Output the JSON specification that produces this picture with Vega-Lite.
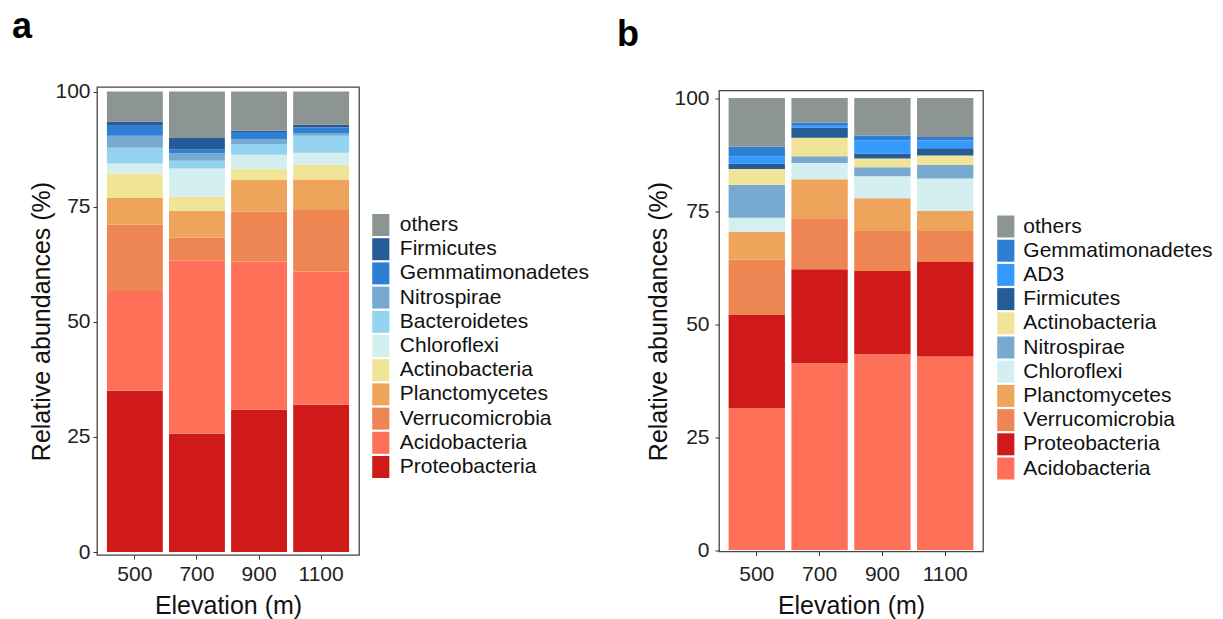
{
  "$schema": "https://vega.github.io/schema/vega-lite/v6.json",
  "autosize": {"type": "none"},
  "padding": {"left": 97, "top": 87, "right": 1126, "bottom": 532},
  "background": "white",
  "config": {
    "font": "Liberation Sans",
    "view": {"stroke": "#444444", "strokeWidth": 1.3},
    "axis": {"grid": false, "domain": false, "tickColor": "#333333", "tickSize": 4, "tickWidth": 1, "labelFont": "Liberation Sans", "labelFontSize": 21, "labelColor": "#222222", "titleFont": "Liberation Sans", "titleFontSize": 25, "titleFontWeight": "normal", "titleColor": "#111111"},
    "legend": {"labelFont": "Liberation Sans", "labelFontSize": 21, "labelColor": "#111111", "labelLimit": 0, "symbolType": "M-0.78,-1H0.78V1H-0.78Z", "symbolSize": 484, "symbolStrokeWidth": 0, "rowPadding": 2.2, "padding": 0, "titlePadding": 0},
    "title": {"font": "Liberation Sans", "fontSize": 36, "fontWeight": "bold", "color": "#000000", "anchor": "start", "frame": "group", "baseline": "alphabetic"}
  },
  "datasets": {
    "a": [
      {"elev": "500", "phylum": "Proteobacteria", "pct": 35.0},
      {"elev": "500", "phylum": "Acidobacteria", "pct": 21.7},
      {"elev": "500", "phylum": "Verrucomicrobia", "pct": 14.4},
      {"elev": "500", "phylum": "Planctomycetes", "pct": 5.8},
      {"elev": "500", "phylum": "Actinobacteria", "pct": 5.3},
      {"elev": "500", "phylum": "Chloroflexi", "pct": 2.2},
      {"elev": "500", "phylum": "Bacteroidetes", "pct": 3.4},
      {"elev": "500", "phylum": "Nitrospirae", "pct": 2.6},
      {"elev": "500", "phylum": "Gemmatimonadetes", "pct": 2.2},
      {"elev": "500", "phylum": "Firmicutes", "pct": 0.9},
      {"elev": "500", "phylum": "others", "pct": 6.5},
      {"elev": "700", "phylum": "Proteobacteria", "pct": 25.7},
      {"elev": "700", "phylum": "Acidobacteria", "pct": 37.6},
      {"elev": "700", "phylum": "Verrucomicrobia", "pct": 5.0},
      {"elev": "700", "phylum": "Planctomycetes", "pct": 5.8},
      {"elev": "700", "phylum": "Actinobacteria", "pct": 3.1},
      {"elev": "700", "phylum": "Chloroflexi", "pct": 6.1},
      {"elev": "700", "phylum": "Bacteroidetes", "pct": 1.7},
      {"elev": "700", "phylum": "Nitrospirae", "pct": 1.6},
      {"elev": "700", "phylum": "Gemmatimonadetes", "pct": 0.8},
      {"elev": "700", "phylum": "Firmicutes", "pct": 2.5},
      {"elev": "700", "phylum": "others", "pct": 10.1},
      {"elev": "900", "phylum": "Proteobacteria", "pct": 30.9},
      {"elev": "900", "phylum": "Acidobacteria", "pct": 32.2},
      {"elev": "900", "phylum": "Verrucomicrobia", "pct": 10.8},
      {"elev": "900", "phylum": "Planctomycetes", "pct": 6.9},
      {"elev": "900", "phylum": "Actinobacteria", "pct": 2.4},
      {"elev": "900", "phylum": "Chloroflexi", "pct": 3.1},
      {"elev": "900", "phylum": "Bacteroidetes", "pct": 2.3},
      {"elev": "900", "phylum": "Nitrospirae", "pct": 1.1},
      {"elev": "900", "phylum": "Gemmatimonadetes", "pct": 1.5},
      {"elev": "900", "phylum": "Firmicutes", "pct": 0.3},
      {"elev": "900", "phylum": "others", "pct": 8.5},
      {"elev": "1100", "phylum": "Proteobacteria", "pct": 32.0},
      {"elev": "1100", "phylum": "Acidobacteria", "pct": 28.9},
      {"elev": "1100", "phylum": "Verrucomicrobia", "pct": 13.4},
      {"elev": "1100", "phylum": "Planctomycetes", "pct": 6.6},
      {"elev": "1100", "phylum": "Actinobacteria", "pct": 3.2},
      {"elev": "1100", "phylum": "Chloroflexi", "pct": 2.6},
      {"elev": "1100", "phylum": "Bacteroidetes", "pct": 3.7},
      {"elev": "1100", "phylum": "Nitrospirae", "pct": 0.6},
      {"elev": "1100", "phylum": "Gemmatimonadetes", "pct": 1.2},
      {"elev": "1100", "phylum": "Firmicutes", "pct": 0.6},
      {"elev": "1100", "phylum": "others", "pct": 7.2}
    ],
    "b": [
      {"elev": "500", "phylum": "Acidobacteria", "pct": 31.4},
      {"elev": "500", "phylum": "Proteobacteria", "pct": 20.7},
      {"elev": "500", "phylum": "Verrucomicrobia", "pct": 12.1},
      {"elev": "500", "phylum": "Planctomycetes", "pct": 6.2},
      {"elev": "500", "phylum": "Chloroflexi", "pct": 3.1},
      {"elev": "500", "phylum": "Nitrospirae", "pct": 7.3},
      {"elev": "500", "phylum": "Actinobacteria", "pct": 3.5},
      {"elev": "500", "phylum": "Firmicutes", "pct": 1.2},
      {"elev": "500", "phylum": "AD3", "pct": 1.6},
      {"elev": "500", "phylum": "Gemmatimonadetes", "pct": 2.1},
      {"elev": "500", "phylum": "others", "pct": 10.8},
      {"elev": "700", "phylum": "Acidobacteria", "pct": 41.3},
      {"elev": "700", "phylum": "Proteobacteria", "pct": 20.8},
      {"elev": "700", "phylum": "Verrucomicrobia", "pct": 11.3},
      {"elev": "700", "phylum": "Planctomycetes", "pct": 8.6},
      {"elev": "700", "phylum": "Chloroflexi", "pct": 3.6},
      {"elev": "700", "phylum": "Nitrospirae", "pct": 1.5},
      {"elev": "700", "phylum": "Actinobacteria", "pct": 4.1},
      {"elev": "700", "phylum": "Firmicutes", "pct": 2.3},
      {"elev": "700", "phylum": "AD3", "pct": 0.5},
      {"elev": "700", "phylum": "Gemmatimonadetes", "pct": 0.5},
      {"elev": "700", "phylum": "others", "pct": 5.5},
      {"elev": "900", "phylum": "Acidobacteria", "pct": 43.3},
      {"elev": "900", "phylum": "Proteobacteria", "pct": 18.4},
      {"elev": "900", "phylum": "Verrucomicrobia", "pct": 8.9},
      {"elev": "900", "phylum": "Planctomycetes", "pct": 7.2},
      {"elev": "900", "phylum": "Chloroflexi", "pct": 4.9},
      {"elev": "900", "phylum": "Nitrospirae", "pct": 2.0},
      {"elev": "900", "phylum": "Actinobacteria", "pct": 1.9},
      {"elev": "900", "phylum": "Firmicutes", "pct": 1.1},
      {"elev": "900", "phylum": "AD3", "pct": 2.9},
      {"elev": "900", "phylum": "Gemmatimonadetes", "pct": 1.1},
      {"elev": "900", "phylum": "others", "pct": 8.3},
      {"elev": "1100", "phylum": "Acidobacteria", "pct": 42.8},
      {"elev": "1100", "phylum": "Proteobacteria", "pct": 20.9},
      {"elev": "1100", "phylum": "Verrucomicrobia", "pct": 6.9},
      {"elev": "1100", "phylum": "Planctomycetes", "pct": 4.4},
      {"elev": "1100", "phylum": "Chloroflexi", "pct": 7.2},
      {"elev": "1100", "phylum": "Nitrospirae", "pct": 3.0},
      {"elev": "1100", "phylum": "Actinobacteria", "pct": 2.1},
      {"elev": "1100", "phylum": "Firmicutes", "pct": 1.6},
      {"elev": "1100", "phylum": "AD3", "pct": 1.7},
      {"elev": "1100", "phylum": "Gemmatimonadetes", "pct": 0.8},
      {"elev": "1100", "phylum": "others", "pct": 8.6}
    ]
  },
  "hconcat": [
    {
      "data": {"name": "a"},
      "transform": [
        {"calculate": "indexof(['Proteobacteria', 'Acidobacteria', 'Verrucomicrobia', 'Planctomycetes', 'Actinobacteria', 'Chloroflexi', 'Bacteroidetes', 'Nitrospirae', 'Gemmatimonadetes', 'Firmicutes', 'others'], datum.phylum)", "as": "stackIdx"}
      ],
      "width": 262,
      "height": 468,
      "title": {"text": "a", "dx": -85, "offset": 35},
      "mark": {"type": "bar"},
      "encoding": {
        "x": {"field": "elev", "type": "nominal", "sort": ["500", "700", "900", "1100"],
              "scale": {"paddingInner": 0.1, "paddingOuter": 0.16},
              "axis": {"title": "Elevation (m)", "labelAngle": 0, "labelPadding": 4, "titlePadding": 9}},
        "y": {"field": "pct", "type": "quantitative", "stack": "zero",
              "scale": {"domain": [-0.65, 101.0], "nice": false, "zero": false},
              "axis": {"title": "Relative abundances (%)", "values": [0, 25, 50, 75, 100], "labelPadding": 3, "titlePadding": 0}},
        "order": {"field": "stackIdx", "type": "quantitative", "sort": "ascending"},
        "color": {"field": "phylum", "type": "nominal",
                  "scale": {"domain": ["others", "Firmicutes", "Gemmatimonadetes", "Nitrospirae", "Bacteroidetes", "Chloroflexi", "Actinobacteria", "Planctomycetes", "Verrucomicrobia", "Acidobacteria", "Proteobacteria"],
                            "range": ["#8D9594", "#265C96", "#2C7FD3", "#78AAD1", "#93D3EF", "#D4EFF0", "#F0E596", "#EFA45B", "#EE8654", "#FE7058", "#D01A1A"]},
                  "legend": {"title": null, "orient": "none", "legendX": 272.8, "legendY": 127, "labelOffset": 8}}
      }
    },
    {
      "data": {"name": "b"},
      "transform": [
        {"calculate": "indexof(['Acidobacteria', 'Proteobacteria', 'Verrucomicrobia', 'Planctomycetes', 'Chloroflexi', 'Nitrospirae', 'Actinobacteria', 'Firmicutes', 'AD3', 'Gemmatimonadetes', 'others'], datum.phylum)", "as": "stackIdx"}
      ],
      "width": 264,
      "height": 461,
      "title": {"text": "b", "dx": -102, "offset": 33.5},
      "mark": {"type": "bar"},
      "encoding": {
        "x": {"field": "elev", "type": "nominal", "sort": ["500", "700", "900", "1100"],
              "scale": {"paddingInner": 0.103, "paddingOuter": 0.153},
              "axis": {"title": "Elevation (m)", "labelAngle": 0, "labelPadding": 7.5, "titlePadding": 9}},
        "y": {"field": "pct", "type": "quantitative", "stack": "zero",
              "scale": {"domain": [-0.33, 101.66], "nice": false, "zero": false},
              "axis": {"title": "Relative abundances (%)", "values": [0, 25, 50, 75, 100], "labelPadding": 6, "titlePadding": 2.5}},
        "order": {"field": "stackIdx", "type": "quantitative", "sort": "ascending"},
        "color": {"field": "phylum", "type": "nominal",
                  "scale": {"domain": ["others", "Gemmatimonadetes", "AD3", "Firmicutes", "Actinobacteria", "Nitrospirae", "Chloroflexi", "Planctomycetes", "Verrucomicrobia", "Proteobacteria", "Acidobacteria"],
                            "range": ["#8D9594", "#2C7FD3", "#3399FF", "#265C96", "#F0E596", "#78AAD1", "#D4EFF0", "#EFA45B", "#EE8654", "#D01A1A", "#FE7058"]},
                  "legend": {"title": null, "orient": "none", "legendX": 275.8, "legendY": 125, "labelOffset": 6.5}}
      }
    }
  ],
  "spacing": 360,
  "bounds": "flush",
  "center": true,
  "resolve": {"scale": {"color": "independent", "x": "independent", "y": "independent"}, "legend": {"color": "independent"}}
}
